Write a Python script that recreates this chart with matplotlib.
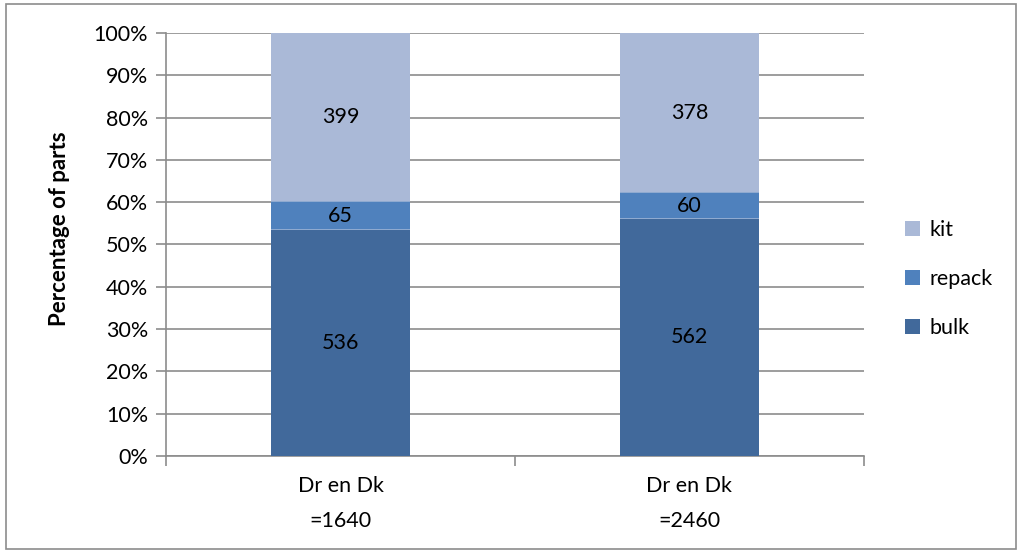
import matplotlib
matplotlib.use("Agg")
import matplotlib.pyplot as plt
from matplotlib.patches import Rectangle
from matplotlib.ticker import FixedLocator, NullFormatter

plt.rcParams['font.family'] = ['Lato', 'DejaVu Sans']

categories = ["Dr en Dk\n=1640", "Dr en Dk\n=2460"]
series_names = ["bulk", "repack", "kit"]
bulk = [536, 562]
repack = [65, 60]
kit = [399, 378]
colors = {"bulk": "#41699B", "repack": "#4F81BD", "kit": "#AAB9D7"}
yticks = [0, 10, 20, 30, 40, 50, 60, 70, 80, 90, 100]
ytick_labels = [f"{v}%" for v in yticks]

series = {"bulk": bulk, "repack": repack, "kit": kit}
totals = [b + r + k for b, r, k in zip(bulk, repack, kit)]

FS = 15.5

fig = plt.figure(figsize=(10.21, 5.5), dpi=100)
ax = fig.add_axes([166 / 1021, 1 - 456 / 550, (864 - 166) / 1021, (456 - 33) / 550])

x = list(range(len(categories)))
bottoms = [0.0] * len(categories)
handles = []
for name in series_names:
    vals = series[name]
    pct = [v / t * 100 for v, t in zip(vals, totals)]
    bars = ax.bar(x, pct, width=0.4, bottom=bottoms, color=colors[name],
                  edgecolor="none", zorder=3, label=name)
    handles.append(bars)
    for xi, b, p, v in zip(x, bottoms, pct, vals):
        ax.text(xi, b + p / 2, str(v), ha="center", va="center",
                fontsize=FS, color="black", zorder=4)
    bottoms = [b + p for b, p in zip(bottoms, pct)]
    if name != "kit":
        ax.bar(x, [0.25] * len(x), width=0.4, bottom=[b - 0.125 for b in bottoms],
               color="#8FAAD0", edgecolor="none", zorder=3.5)

ax.set_xlim(-0.5, 1.5)
ax.set_ylim(0, 100)
ax.set_yticks(yticks)
ax.set_yticklabels(ytick_labels, fontsize=FS)
ax.yaxis.grid(True, color="#8C8C8C", linewidth=1.2, zorder=0)
ax.set_axisbelow(True)

ax.xaxis.set_major_locator(FixedLocator([-0.5, 0.5, 1.5]))
ax.xaxis.set_major_formatter(NullFormatter())
for xi, lab in zip(x, categories):
    l1, l2 = lab.split("\n")
    ax.text(xi, -30 / 423 * 100, l1, ha="center", va="center", fontsize=FS,
            transform=ax.transData, clip_on=False)
    ax.text(xi, -65 / 423 * 100, l2, ha="center", va="center", fontsize=FS,
            transform=ax.transData, clip_on=False)
ax.tick_params(axis="x", which="major", length=7, color="#8C8C8C", width=1.2)
ax.tick_params(axis="y", length=7, color="#8C8C8C", width=1.2, pad=6)

for s in ["top", "right"]:
    ax.spines[s].set_visible(False)
for s in ["left", "bottom"]:
    ax.spines[s].set_color("#8C8C8C")
    ax.spines[s].set_linewidth(1.2)

fig.text(60 / 1021, 1 - 229 / 550, "Percentage of parts", rotation=90,
         ha="center", va="center", fontsize=16, fontweight="bold")

leg = fig.legend(handles=handles[::-1], labels=series_names[::-1],
                 loc="center left", bbox_to_anchor=(886 / 1021, 1 - 279 / 550),
                 frameon=False, fontsize=FS, handlelength=0.7, handleheight=0.7,
                 handletextpad=0.4, labelspacing=1.35)

fig.patches.append(Rectangle((6 / 1021, 1 / 550), 1010 / 1021, 545 / 550,
                             transform=fig.transFigure, fill=False,
                             edgecolor="#8C8C8C", linewidth=1.2))

fig.savefig("out.png", dpi=100)
